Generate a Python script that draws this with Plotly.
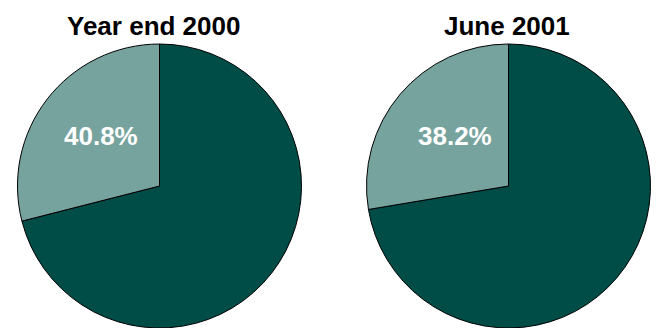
import plotly.graph_objects as go

# Share of the total shown as the light wedge, against a base of 100
titles = ["Year end 2000", "June 2001"]
share = [40.8, 38.2]
base = [100, 100]
slice_names = ["Base", "Share"]
colors = ["#004D48", "#77A39E"]

W, H = 659, 328
# pie boxes in pixels: (left, right, top, bottom)
boxes = [(17, 302, 44, 328), (366, 651, 44, 328)]
label_pos = [(101, 136), (455, 136)]
title_pos = [(153.5, 26), (506.5, 26)]

fig = go.Figure()
annotations = []
for i in range(2):
    l, r, t, b = boxes[i]
    # base wedge runs clockwise from 12 o'clock, so the share wedge
    # closes the circle on the left-hand side
    fig.add_trace(go.Pie(
        values=[base[i], share[i]],
        labels=slice_names,
        sort=False,
        direction="clockwise",
        rotation=0,
        marker=dict(colors=colors, line=dict(color="#000000", width=1)),
        textinfo="none",
        hoverinfo="label+value",
        showlegend=False,
        domain=dict(x=[l / W, r / W], y=[1 - b / H, 1 - t / H]),
    ))
    tx, ty = title_pos[i]
    annotations.append(dict(
        text=f"<b>{titles[i]}</b>", x=tx / W, y=1 - ty / H,
        xref="paper", yref="paper", showarrow=False,
        xanchor="center", yanchor="middle",
        font=dict(family="Liberation Sans, Arial, sans-serif", size=26, color="#000000"),
    ))
    lx, ly = label_pos[i]
    annotations.append(dict(
        text=f"<b>{share[i]:.1f}%</b>", x=lx / W, y=1 - ly / H,
        xref="paper", yref="paper", showarrow=False,
        xanchor="center", yanchor="middle",
        font=dict(family="Liberation Sans, Arial, sans-serif", size=26, color="#FFFFFF"),
    ))

fig.update_layout(
    width=W, height=H,
    margin=dict(l=0, r=0, t=0, b=0),
    paper_bgcolor="#FFFFFF",
    plot_bgcolor="#FFFFFF",
    annotations=annotations,
)

fig.write_html("out.html")
